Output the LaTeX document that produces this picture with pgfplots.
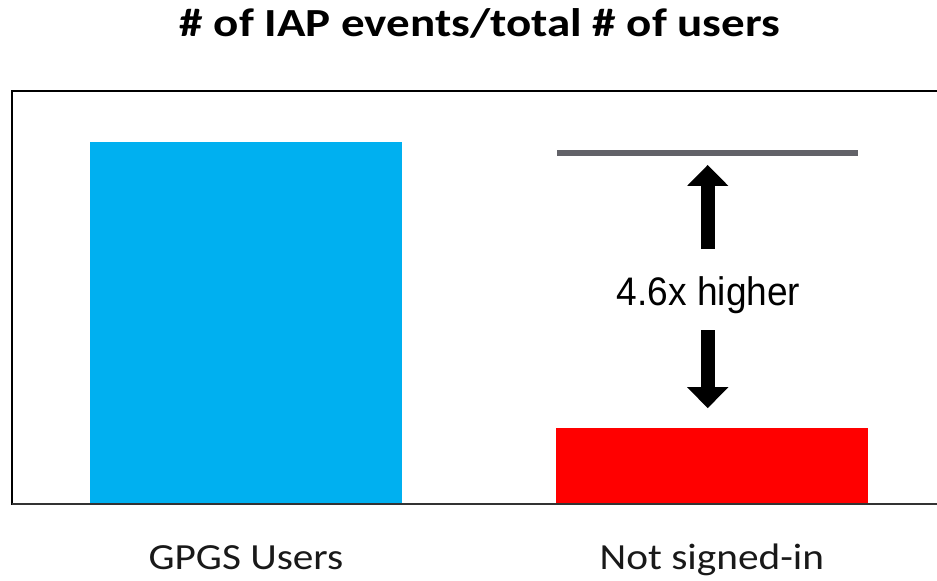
\documentclass[border=0pt]{standalone}
\usepackage{pgfplots}
\pgfplotsset{compat=1.18}
\usepackage{fontspec}
\setmainfont{Carlito}
\newfontfamily\arialfont{Liberation Sans}
\usetikzlibrary{arrows.meta}
\definecolor{barblue}{RGB}{0,176,240}
\definecolor{barred}{RGB}{255,0,0}
\definecolor{refgray}{RGB}{98,98,104}
\begin{document}
\begin{tikzpicture}
\begin{axis}[
  scale only axis,
  width=925bp, height=413bp,
  xmin=-0.502, xmax=1.483,
  ymin=0, ymax=100,
  axis line style={draw=none},
  major tick length=0pt,
  ytick=\empty,
  xtick={0,1},
  xticklabels={\scalebox{1.12}[1]{GPGS Users},\scalebox{1.12}[1]{Not signed-in}},
  xticklabel style={anchor=base, yshift=-65bp, font=\fontsize{37}{44}\selectfont, text=black!90},
  clip=false,
]
\addplot[ybar, bar width=0.67, bar shift=0pt, fill=barblue, draw=none] coordinates {(0,87.7)};
\addplot[ybar, bar width=0.67, bar shift=0pt, fill=barred, draw=none] coordinates {(1,18.4)};
\addplot[sharp plot, no marks, draw=refgray, line width=5.5bp] coordinates {(0.667,85.0) (1.313,85.0)};
\draw[line width=2.8bp, black, line cap=rect] (rel axis cs:1,1) -- (rel axis cs:0,1) -- (rel axis cs:0,0);
\draw[line width=2.8bp, black!80] (rel axis cs:0,0) -- (rel axis cs:1,0);
\draw[line width=14bp, -{Triangle[width=40bp,length=21bp]}] (axis cs:0.991,61.7) -- (axis cs:0.991,82.1);
\draw[line width=14bp, -{Triangle[width=40bp,length=21bp]}] (axis cs:0.991,42.1) -- (axis cs:0.991,23.2);
\node[anchor=center, inner sep=0pt, font=\arialfont\fontsize{40}{46}\selectfont] at (axis cs:0.993,50.6) {\scalebox{0.93}[1]{4.6x higher}};
\node[anchor=base, inner sep=0pt, font=\bfseries\fontsize{40}{48}\selectfont] at ([yshift=54bp]rel axis cs:0.506,1) {\scalebox{1.18}[1]{\# of IAP events/total \# of users}};
\coordinate (bl) at ([xshift=-12bp, yshift=-77bp]rel axis cs:0,0);
\coordinate (tr) at ([yshift=91bp]rel axis cs:1,1);
\end{axis}
\pgfresetboundingbox
\path[use as bounding box] (bl) rectangle (tr);
\end{tikzpicture}
\end{document}
